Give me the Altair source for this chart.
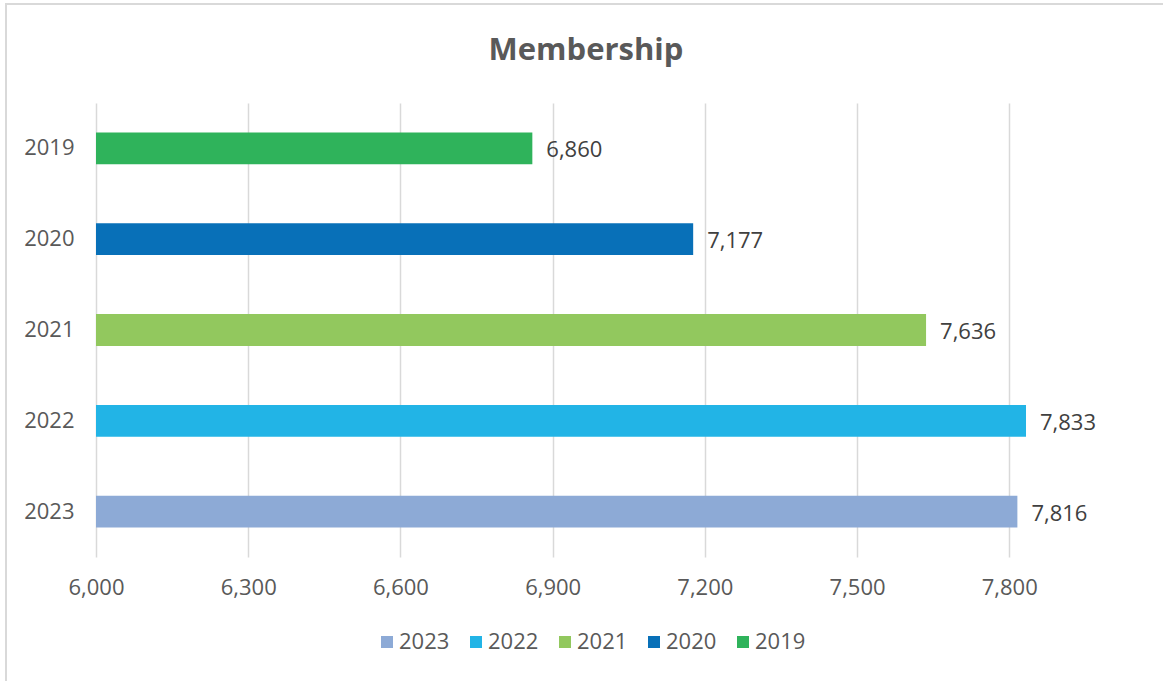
import altair as alt
import pandas as pd

years = ["2019", "2020", "2021", "2022", "2023"]
members = [6860, 7177, 7636, 7833, 7816]
legend_order = ["2023", "2022", "2021", "2020", "2019"]
legend_colors = ["#8DAAD6", "#22B4E6", "#92C85E", "#0870B8", "#2FB35B"]
x_ticks = [6000, 6300, 6600, 6900, 7200, 7500, 7800]

df = pd.DataFrame({"year": years, "members": members})

FONT = "Open Sans"
TXT = "#595959"
FS = 22

base = alt.Chart(df)

bars = base.mark_bar(clip=True).encode(
    y=alt.Y("year:N", sort=years, title=None,
            scale=alt.Scale(paddingInner=0.65, paddingOuter=0.325),
            axis=alt.Axis(domain=False, ticks=False, labelPadding=22,
                          labelFontSize=FS, labelColor=TXT, labelFont=FONT, grid=False)),
    x=alt.X("members:Q", title=None,
            scale=alt.Scale(domain=[6000, 7900], zero=False, nice=False),
            axis=alt.Axis(values=x_ticks, format=",.0f", domain=False, ticks=False,
                          labelFlush=False, labelPadding=20, labelFontSize=FS,
                          labelColor=TXT, labelFont=FONT,
                          grid=True, gridColor="#D9D9D9", gridWidth=1.5)),
    color=alt.Color("year:N", sort=legend_order,
                    scale=alt.Scale(domain=legend_order, range=legend_colors),
                    legend=alt.Legend(title=None, orient="none", direction="horizontal",
                                      columns=5, legendX=280, legendY=528,
                                      symbolType="square", symbolSize=144, symbolStrokeWidth=0,
                                      labelFontSize=FS, labelColor=TXT, labelFont=FONT,
                                      labelOffset=1, columnPadding=15)),
)

labels = base.mark_text(align="left", baseline="middle", dx=14, dy=2, fontSize=FS,
                        font=FONT, color="#404040").encode(
    y=alt.Y("year:N", sort=years),
    x=alt.X("members:Q"),
    text=alt.Text("members:Q", format=",.0f"),
)

border_data = alt.Data(values=[{"a": 1}])
top_border = alt.Chart(border_data).mark_rule(color="#D9D9D9", strokeWidth=2).encode(
    x=alt.value(-91), x2=alt.value(1067), y=alt.value(-99))
left_border = alt.Chart(border_data).mark_rule(color="#D9D9D9", strokeWidth=2).encode(
    x=alt.value(-90), y=alt.value(-99), y2=alt.value(578))

chart = alt.layer(bars, labels, top_border, left_border).properties(
    width=964, height=454,
    background="white",
    title=alt.TitleParams("Membership", fontSize=31, fontWeight="bold", font=FONT,
                          color=TXT, anchor="middle", offset=0, dx=8, dy=64),
    autosize=alt.AutoSizeParams(type="none"),
    padding={"left": 96, "top": 103, "right": 103, "bottom": 124},
).configure_view(strokeWidth=0)

chart.save("out.html", embed_options={"renderer": "svg", "actions": False})
